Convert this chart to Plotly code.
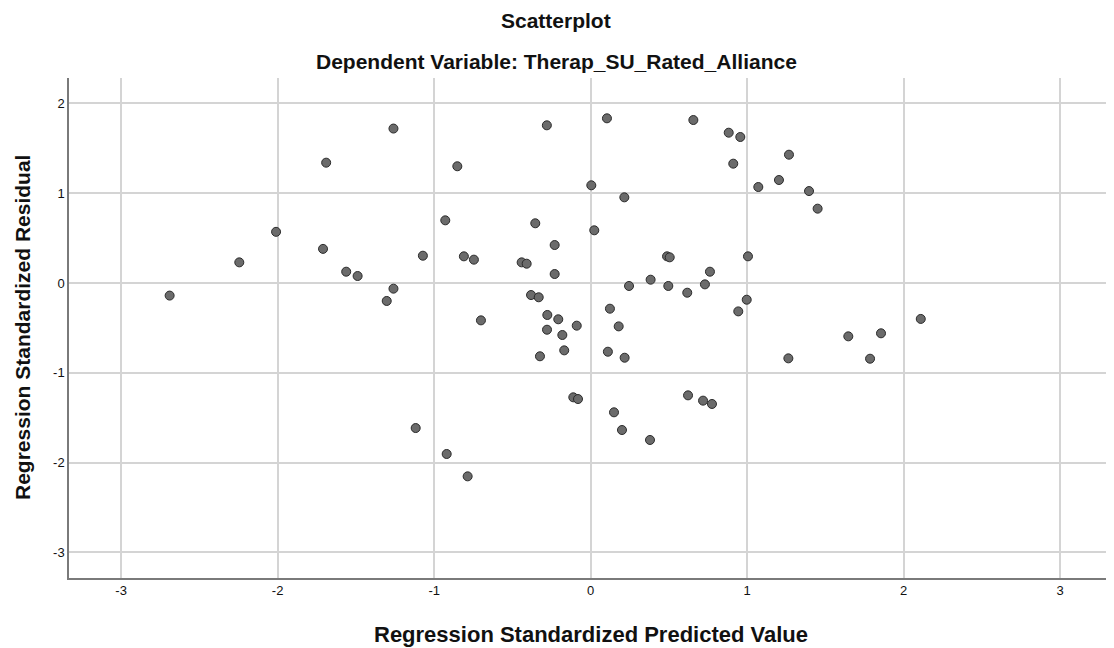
import plotly.graph_objects as go

# standardized predicted values (x) and standardized residuals (y)
pred = [-2.69, -2.245, -2.01, -1.71, -1.69, -1.562, -1.489, -1.303, -1.26, -1.26,
        -1.118, -1.072, -0.929, -0.92, -0.852, -0.81, -0.786, -0.746, -0.701, -0.441,
        -0.409, -0.381, -0.354, -0.332, -0.324, -0.28, -0.279, -0.277, -0.23, -0.23,
        -0.207, -0.181, -0.169, -0.111, -0.089, -0.081, 0.004, 0.023, 0.104, 0.11,
        0.123, 0.149, 0.179, 0.2, 0.215, 0.217, 0.245, 0.379, 0.383, 0.488,
        0.496, 0.505, 0.617, 0.622, 0.656, 0.718, 0.73, 0.762, 0.775, 0.882,
        0.911, 0.943, 0.956, 0.997, 1.005, 1.071, 1.203, 1.263, 1.267, 1.395,
        1.45, 1.646, 1.785, 1.855, 2.109]
resid = [-0.14, 0.23, 0.57, 0.38, 1.34, 0.126, 0.078, -0.20, 1.72, -0.063,
         -1.615, 0.304, 0.698, -1.904, 1.30, 0.297, -2.153, 0.26, -0.416, 0.23,
         0.215, -0.134, 0.665, -0.159, -0.816, 1.756, -0.52, -0.356, 0.423, 0.10,
         -0.404, -0.579, -0.75, -1.273, -0.475, -1.292, 1.088, 0.587, 1.834, -0.765,
         -0.286, -1.44, -0.483, -1.637, 0.954, -0.832, -0.033, -1.748, 0.037, 0.297,
         -0.033, 0.286, -0.108, -1.251, 1.815, -1.31, -0.015, 0.126, -1.347, 1.674,
         1.329, -0.316, 1.626, -0.186, 0.297, 1.069, 1.147, -0.839, 1.429, 1.024,
         0.828, -0.594, -0.843, -0.56, -0.40]

tick_vals = [-3, -2, -1, 0, 1, 2, 3]
tick_text = ["-3", "-2", "-1", "0", "1", "2", "3"]

# the page body adds an 8px offset, so the figure is sized/margined to compensate
W, H = 1106, 640
l, r, t, b = 61, 4, 70, 70
pw, ph = W - l - r, H - t - b
OFF = 8


def px_to_paper(px, py):
    # page pixel -> paper coords
    return (px - OFF - l) / pw, 1 - (py - OFF - t) / ph


fig = go.Figure(go.Scatter(
    x=pred, y=resid, mode="markers",
    marker=dict(size=9, color="#6b6b6b", line=dict(color="#2b2b2b", width=1)),
    hoverinfo="x+y"
))

axis_common = dict(
    tickvals=tick_vals, ticktext=tick_text, showgrid=True, gridcolor="#d4d4d4", gridwidth=1.5,
    zeroline=False, ticks="", tickfont=dict(family="Liberation Sans, Arial", size=13, color="#111"),
    showline=True, linecolor="#7a7a7a", linewidth=1.5, automargin=False,
)

texts = [
    ("<b>Scatterplot</b>", 556, 21, 21, 0),
    ("<b>Dependent Variable: Therap_SU_Rated_Alliance</b>", 556, 62, 21, 0),
    ("<b>Regression Standardized Predicted Value</b>", 591, 634, 22, 0),
    ("<b>Regression Standardized Residual</b>", 22, 328, 21, -90),
]
annotations = []
for txt, px, py, size, ang in texts:
    ax, ay = px_to_paper(px, py)
    annotations.append(dict(text=txt, x=ax, y=ay, xref="paper", yref="paper",
                            xanchor="center", yanchor="middle", textangle=ang,
                            showarrow=False, font=dict(size=size, color="#111")))

fig.update_layout(
    width=W, height=H,
    margin=dict(l=l, r=r, t=t, b=b),
    paper_bgcolor="white", plot_bgcolor="white",
    font=dict(family="Liberation Sans, Arial", color="#111"),
    showlegend=False,
    xaxis=dict(range=[-3.333, 3.318], **axis_common),
    yaxis=dict(range=[-3.285, 2.283], **axis_common),
    annotations=annotations,
)

fig.write_html("out.html")
